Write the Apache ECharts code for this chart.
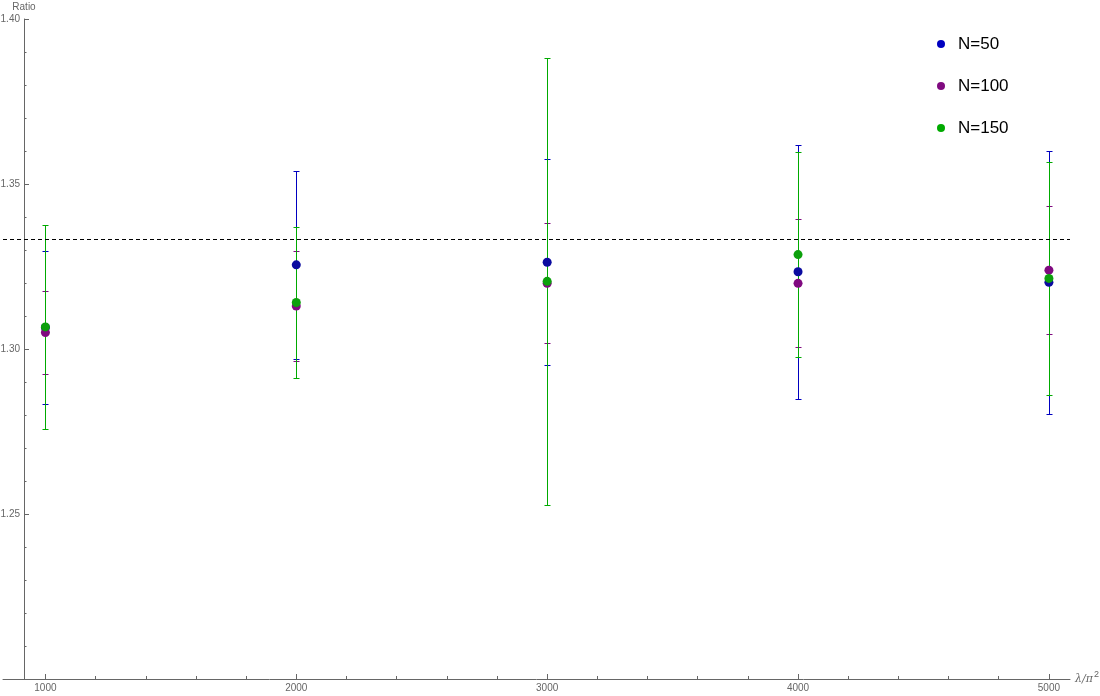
<!DOCTYPE html>
<html>
<head>
<meta charset="utf-8">
<script src="https://cdn.jsdelivr.net/npm/echarts@6/dist/echarts.min.js"></script>
<style>
    * { margin: 0; padding: 0; }
    body { background: #fff; }
</style>
</head>
<body>
<div id="ratio" style="width: 1100px;height: 696px;"></div>
<script>
    // x values (λ/π²)
    var lambdas = [1000, 2000, 3000, 4000, 5000];
    var xMinorTicks = [1200, 1400, 1600, 1800, 2200, 2400, 2600, 2800, 3200, 3400, 3600, 3800, 4200, 4400, 4600, 4800];
    var names = ['N=50', 'N=100', 'N=150'];

    // mean ratio per N
    var ratio50  = [1.3065, 1.3255, 1.3263, 1.3234, 1.3202];
    var ratio100 = [1.3050, 1.3130, 1.3199, 1.3199, 1.3239];
    var ratio150 = [1.3067, 1.3141, 1.3205, 1.3286, 1.3214];

    // error (half width)
    var err50  = [0.0233, 0.0284, 0.0312, 0.0384, 0.0398];
    var err100 = [0.0125, 0.0167, 0.0182, 0.0194, 0.0194];
    var err150 = [0.0308, 0.0228, 0.0677, 0.0311, 0.0352];

    var exact = 4 / 3;

    var palette = ['#0b0ba0', '#800a80', '#0ca00c'];
    var barColors = ['#0000c0', '#800a80', '#00aa00'];
    var axisGrey = '#666';

    function points(vals) {
        return lambdas.map(function (x, i) { return [x, vals[i]]; });
    }
    function bars(vals, errs) {
        return lambdas.map(function (x, i) { return [x, vals[i] - errs[i], vals[i] + errs[i]]; });
    }

    function renderBar(params, api) {
        var x = api.value(0);
        var lo = api.coord([x, api.value(1)]);
        var hi = api.coord([x, api.value(2)]);
        var px = Math.round(lo[0]) + 0.5;
        var yLo = Math.round(lo[1]) + 0.5;
        var yHi = Math.round(hi[1]) + 0.5;
        var w = 3;
        var style = { stroke: api.visual('color'), lineWidth: 1 };
        return {
            type: 'group',
            children: [
                { type: 'line', shape: { x1: px, y1: yHi, x2: px, y2: yLo }, style: style },
                { type: 'line', shape: { x1: px - w, y1: yHi, x2: px + w, y2: yHi }, style: style },
                { type: 'line', shape: { x1: px - w, y1: yLo, x2: px + w, y2: yLo }, style: style }
            ]
        };
    }

    var means = [ratio50, ratio100, ratio150];
    var errs = [err50, err100, err150];

    var series = [];
    names.forEach(function (n, k) {
        series.push({
            name: n,
            type: 'custom',
            xAxisIndex: 0,
            z: 2,
            renderItem: renderBar,
            itemStyle: { color: barColors[k] },
            encode: { x: 0, y: [1, 2] },
            data: bars(means[k], errs[k])
        });
    });
    names.forEach(function (n, k) {
        var s = {
            name: n,
            type: 'scatter',
            xAxisIndex: 0,
            z: 3,
            symbol: 'circle',
            symbolSize: 9,
            itemStyle: { color: palette[k], opacity: 1 },
            data: points(means[k])
        };
        if (k === 0) {
            s.markLine = {
                silent: true,
                symbol: 'none',
                precision: 8,
                label: { show: false },
                lineStyle: { color: '#000', type: [4, 3], width: 1 },
                data: [[{ coord: [831, exact] }, { coord: [5084, exact] }]]
            };
        }
        series.push(s);
    });

    var chart = echarts.init(document.getElementById('ratio'));
    chart.setOption({
        animation: false,
        color: palette,
        grid: { left: 3, right: 30, top: 19, bottom: 17, containLabel: false, outerBoundsMode: 'none' },
        legend: {
            data: names,
            orient: 'vertical',
            left: 932,
            top: 29,
            icon: 'circle',
            itemWidth: 24,
            itemHeight: 8,
            itemGap: 22,
            textStyle: { fontSize: 17, color: '#000', fontFamily: 'Liberation Sans, Arial', lineHeight: 20 }
        },
        xAxis: [
            {
                type: 'value',
                min: 831,
                max: 5084,
                position: 'bottom',
                name: '{a|λ/π}{s|2}',
                nameLocation: 'end',
                nameGap: 5,
                nameTextStyle: {
                    color: axisGrey,
                    rich: {
                        a: { color: axisGrey, fontSize: 11, fontStyle: 'italic', fontFamily: 'DejaVu Serif' },
                        s: { color: axisGrey, fontSize: 9, fontFamily: 'Liberation Sans, Arial', padding: [0, 0, 9, 1] }
                    }
                },
                axisLine: { show: true, onZero: false, lineStyle: { color: axisGrey } },
                axisTick: { show: true, inside: true, length: 5, customValues: lambdas, lineStyle: { color: axisGrey } },
                axisLabel: {
                    customValues: lambdas,
                    color: axisGrey,
                    fontSize: 10,
                    margin: 4,
                    fontFamily: 'Liberation Sans, Arial',
                    formatter: function (v) { return String(v); }
                },
                splitLine: { show: false }
            },
            {
                type: 'value',
                min: 831,
                max: 5084,
                position: 'bottom',
                axisLine: { show: false, onZero: false },
                axisTick: { show: true, inside: true, length: 3, customValues: xMinorTicks, lineStyle: { color: axisGrey } },
                axisLabel: { show: false },
                splitLine: { show: false }
            }
        ],
        yAxis: {
            type: 'value',
            min: 1.2,
            max: 1.4,
            interval: 0.05,
            offset: -21,
            name: 'Ratio',
            nameLocation: 'end',
            nameGap: 7,
            nameTextStyle: { color: axisGrey, fontSize: 10, fontFamily: 'Liberation Sans, Arial' },
            axisLine: { show: true, onZero: false, lineStyle: { color: axisGrey } },
            axisTick: { show: true, inside: true, length: 5, lineStyle: { color: axisGrey } },
            minorTick: { show: true, splitNumber: 5, length: 2.5, lineStyle: { color: axisGrey } },
            axisLabel: {
                showMinLabel: false,
                color: axisGrey,
                fontSize: 10,
                margin: 4,
                fontFamily: 'Liberation Sans, Arial',
                formatter: function (v) { return v.toFixed(2); }
            },
            splitLine: { show: false },
            minorSplitLine: { show: false }
        },
        series: series
    });
</script>
</body>
</html>
